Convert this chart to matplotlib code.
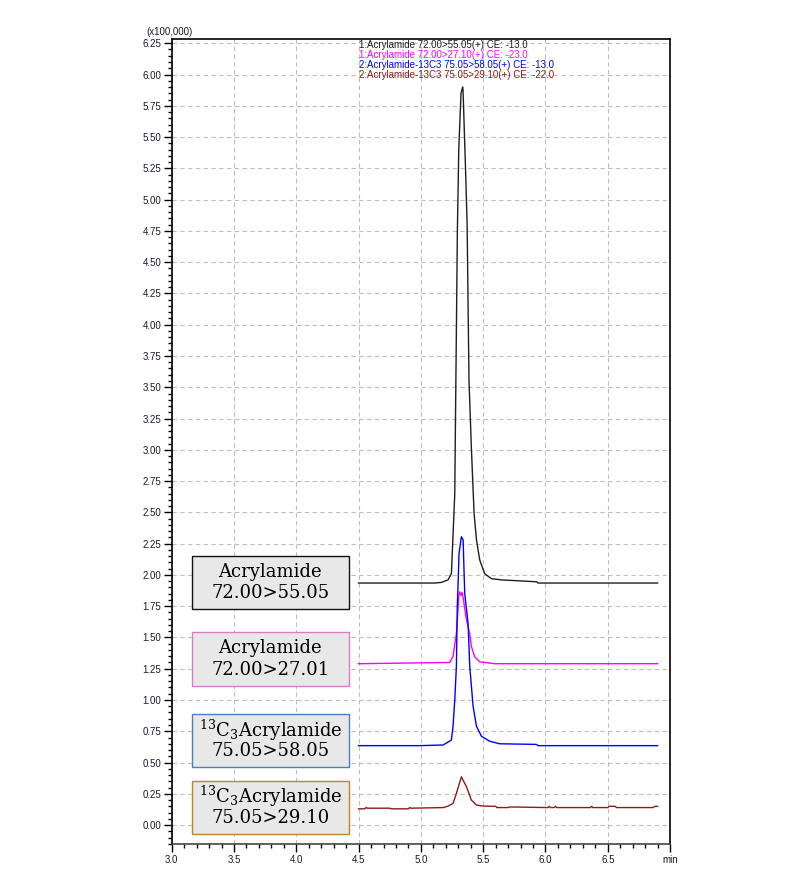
import matplotlib.pyplot as plt
from matplotlib.patches import Rectangle
import numpy as np

plt.rcParams["mathtext.fontset"] = "dejavuserif"

# chromatogram traces (x100,000), stacked with offsets as in the printout
t_black = [4.50, 5.11, 5.165, 5.218, 5.245, 5.272, 5.277, 5.285, 5.293, 5.304, 5.322, 5.335, 5.338,
           5.357, 5.371, 5.378, 5.386, 5.405, 5.427, 5.446, 5.472, 5.512, 5.566, 5.646, 5.93, 5.94, 6.90]
v_black = [1.935, 1.935, 1.94, 1.96, 2.01, 2.65, 3.18, 3.96, 4.76, 5.40, 5.85, 5.90, 5.88,
           5.29, 4.81, 4.22, 3.56, 3.02, 2.49, 2.28, 2.12, 2.01, 1.97, 1.96, 1.945, 1.935, 1.935]

t_magenta = [4.50, 5.232, 5.258, 5.285, 5.298, 5.305, 5.312, 5.322, 5.330, 5.338, 5.366, 5.392,
             5.405, 5.432, 5.472, 5.593, 6.90]
v_magenta = [1.29, 1.30, 1.35, 1.53, 1.72, 1.84, 1.865, 1.835, 1.86, 1.825, 1.64, 1.53,
             1.43, 1.345, 1.305, 1.29, 1.29]

t_blue = [4.50, 4.99, 5.178, 5.245, 5.258, 5.272, 5.285, 5.292, 5.298, 5.306, 5.325, 5.339, 5.346,
          5.352, 5.379, 5.392, 5.419, 5.446, 5.486, 5.553, 5.633, 5.927, 5.94, 6.90]
v_blue = [0.635, 0.635, 0.64, 0.68, 0.79, 1.00, 1.27, 1.745, 1.905, 2.17, 2.305, 2.28, 2.04,
          1.85, 1.61, 1.27, 0.95, 0.79, 0.71, 0.67, 0.65, 0.645, 0.635, 0.635]

t_brown = [4.50, 4.55, 4.56, 4.57, 4.75, 4.76, 4.90, 4.91, 4.92, 5.178, 5.215, 5.258, 5.285, 5.325,
           5.366, 5.405, 5.446, 5.50, 5.60, 5.61, 5.70, 5.71, 6.02, 6.03, 6.04, 6.07, 6.08, 6.09,
           6.36, 6.37, 6.38, 6.50, 6.51, 6.56, 6.57, 6.86, 6.88, 6.90]
v_brown = [0.13, 0.13, 0.14, 0.135, 0.135, 0.13, 0.13, 0.14, 0.135, 0.14, 0.15, 0.173, 0.253, 0.386,
           0.306, 0.20, 0.16, 0.152, 0.15, 0.14, 0.14, 0.145, 0.14, 0.15, 0.14, 0.14, 0.15, 0.14,
           0.14, 0.15, 0.14, 0.14, 0.15, 0.15, 0.14, 0.14, 0.15, 0.15]

channel_labels = ["1:Acrylamide 72.00>55.05(+) CE: -13.0",
                  "1:Acrylamide 72.00>27.10(+) CE: -23.0",
                  "2:Acrylamide-13C3 75.05>58.05(+) CE: -13.0",
                  "2:Acrylamide-13C3 75.05>29.10(+) CE: -22.0"]
box_line1 = ["Acrylamide", "Acrylamide", r"$^{13}$C$_3$Acrylamide", r"$^{13}$C$_3$Acrylamide"]
box_line2 = ["72.00>55.05", "72.00>27.01", "75.05>58.05", "75.05>29.10"]

line_colors = ["#1e1e1e", "#ff00ff", "#0000ff", "#8b1c1c"]
edge_colors = ["#111111", "#d97ccb", "#4a80c4", "#b8862b"]
# box (bottom, top) in data units
box_y = [(1.725, 2.151), (1.114, 1.546), (0.461, 0.888), (-0.072, 0.354)]

fig = plt.figure(figsize=(7.93, 8.72), dpi=100)
ax = fig.add_axes([0.2165, 0.032, 0.6285, 0.923])

ax.set_axisbelow(True)
ax.grid(True, which="major", color="#bdbdbd", linestyle=(0, (4, 3)), linewidth=0.8)

traces = [(t_black, v_black), (t_magenta, v_magenta), (t_blue, v_blue), (t_brown, v_brown)]
for (t, v), c in zip(traces, line_colors):
    ax.plot(t, v, color=c, linewidth=1.0)

ax.set_xlim(3.0, 7.0)
ax.set_ylim(-0.152, 6.282)
xt = np.arange(3.0, 7.01, 0.5)
ax.set_xticks(xt)
ax.set_xticklabels(["%.1f" % x for x in xt[:-1]] + ["min"])
ax.set_xticks(np.arange(3.0, 7.01, 0.1), minor=True)
yt = np.arange(0.0, 6.26, 0.25)
ax.set_yticks(yt)
ax.set_yticklabels(["%.2f" % y for y in yt])
ax.set_yticks(np.arange(-0.15, 6.28, 0.05), minor=True)

ax.tick_params(which="major", length=5.5, width=1.0, labelsize=7, labelcolor="#1a1a2a",
               direction="out", pad=2)
ax.tick_params(which="minor", length=2.8, width=1.0, direction="out")
for lab in ax.get_xticklabels() + ax.get_yticklabels():
    lab.set_family("Liberation Sans")
for s in ax.spines.values():
    s.set_linewidth(1.2)
ax.spines["bottom"].set_color("#444444")

ax.text(-0.005, 1.003, "(x100,000)", transform=ax.transAxes, fontsize=7,
        family="Liberation Sans", color="#1a1a2a", ha="center", va="bottom")

# channel header in the top of the plot
for i, (lab, c) in enumerate(zip(channel_labels, line_colors)):
    ax.text(4.5, 6.235 - i * 0.08, lab, fontsize=7, family="Liberation Sans", color=c,
            ha="left", va="center")

# labelled boxes at the left
for i in range(4):
    y0, y1 = box_y[i]
    ax.add_patch(Rectangle((3.16, y0), 1.264, y1 - y0, facecolor="#e8e8e8",
                           edgecolor=edge_colors[i], linewidth=1.0, zorder=3))
    cx = 3.16 + 1.264 / 2
    h = y1 - y0
    ax.text(cx, y1 - h * 0.30, box_line1[i], fontsize=13, family="DejaVu Serif",
            ha="center", va="center", zorder=4)
    ax.text(cx, y0 + h * 0.30, box_line2[i], fontsize=13, family="DejaVu Serif",
            ha="center", va="center", zorder=4)

fig.savefig("out.png", dpi=100)
